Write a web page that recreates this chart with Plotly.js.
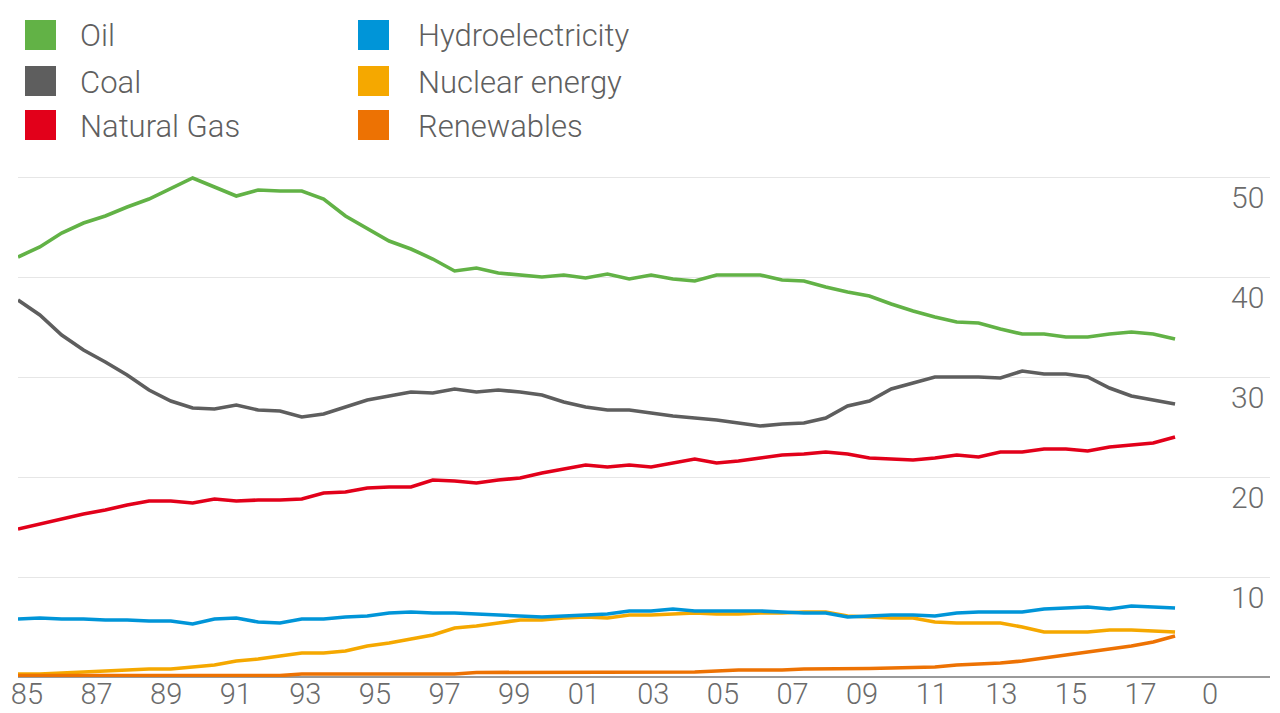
<!DOCTYPE html>
<html>
<head>
<meta charset="utf-8">
<script src="https://cdn.plot.ly/plotly-3.0.1.min.js"></script>
<style>
  html, body { margin: 0; padding: 0; background: #ffffff; }
  #chart { width: 1280px; height: 713px; }
</style>
</head>
<body>
<div id="chart"></div>
<script>
// ---- data (share of primary energy, %) ----
const years = [1965,1966,1967,1968,1969,1970,1971,1972,1973,1974,1975,1976,1977,1978,1979,1980,1981,1982,1983,1984,1985,1986,1987,1988,1989,1990,1991,1992,1993,1994,1995,1996,1997,1998,1999,2000,2001,2002,2003,2004,2005,2006,2007,2008,2009,2010,2011,2012,2013,2014,2015,2016,2017,2018];

const oil = [42.0,43.0,44.4,45.4,46.1,47.0,47.8,48.9,49.9,49.0,48.1,48.7,48.6,48.6,47.8,46.1,44.8,43.6,42.8,41.8,40.6,40.9,40.4,40.2,40.0,40.2,39.9,40.3,39.8,40.2,39.8,39.6,40.2,40.2,40.2,39.7,39.6,39.0,38.5,38.1,37.3,36.6,36.0,35.5,35.4,34.8,34.3,34.3,34.0,34.0,34.3,34.5,34.3,33.8];

const coal = [37.7,36.2,34.2,32.7,31.5,30.2,28.7,27.6,26.9,26.8,27.2,26.7,26.6,26.0,26.3,27.0,27.7,28.1,28.5,28.4,28.8,28.5,28.7,28.5,28.2,27.5,27.0,26.7,26.7,26.4,26.1,25.9,25.7,25.4,25.1,25.3,25.4,25.9,27.1,27.6,28.8,29.4,30.0,30.0,30.0,29.9,30.6,30.3,30.3,30.0,28.9,28.1,27.7,27.3];

const naturalGas = [14.8,15.3,15.8,16.3,16.7,17.2,17.6,17.6,17.4,17.8,17.6,17.7,17.7,17.8,18.4,18.5,18.9,19.0,19.0,19.7,19.6,19.4,19.7,19.9,20.4,20.8,21.2,21.0,21.2,21.0,21.4,21.8,21.4,21.6,21.9,22.2,22.3,22.5,22.3,21.9,21.8,21.7,21.9,22.2,22.0,22.5,22.5,22.8,22.8,22.6,23.0,23.2,23.4,24.0];

const hydro = [5.8,5.9,5.8,5.8,5.7,5.7,5.6,5.6,5.3,5.8,5.9,5.5,5.4,5.8,5.8,6.0,6.1,6.4,6.5,6.4,6.4,6.3,6.2,6.1,6.0,6.1,6.2,6.3,6.6,6.6,6.8,6.6,6.6,6.6,6.6,6.5,6.4,6.4,6.0,6.1,6.2,6.2,6.1,6.4,6.5,6.5,6.5,6.8,6.9,7.0,6.8,7.1,7.0,6.9];

const nuclear = [0.3,0.3,0.4,0.5,0.6,0.7,0.8,0.8,1.0,1.2,1.6,1.8,2.1,2.4,2.4,2.6,3.1,3.4,3.8,4.2,4.9,5.1,5.4,5.7,5.7,5.9,6.0,5.9,6.2,6.2,6.3,6.4,6.3,6.3,6.4,6.4,6.5,6.5,6.1,6.0,5.9,5.9,5.5,5.4,5.4,5.4,5.0,4.5,4.5,4.5,4.7,4.7,4.6,4.5];

const renewables = [0.15,0.15,0.15,0.15,0.15,0.15,0.15,0.15,0.15,0.15,0.15,0.15,0.15,0.3,0.3,0.3,0.3,0.3,0.3,0.3,0.3,0.45,0.45,0.45,0.45,0.45,0.45,0.5,0.5,0.5,0.5,0.5,0.6,0.7,0.7,0.7,0.8,0.8,0.8,0.85,0.9,0.95,1.0,1.2,1.3,1.4,1.6,1.9,2.2,2.5,2.8,3.1,3.5,4.1];

const seriesNames = ["Oil", "Coal", "Natural Gas", "Hydroelectricity", "Nuclear energy", "Renewables"];
const xTickLabels = ["85","87","89","91","93","95","97","99","01","03","05","07","09","11","13","15","17","0"];
const yTickValues = [10, 20, 30, 40, 50];
const yTickLabels = ["10", "20", "30", "40", "50"];

// ---- styling ----
const colors = {
  "Oil": "#62b246",
  "Coal": "#5e5e5e",
  "Natural Gas": "#e2001a",
  "Hydroelectricity": "#0095d8",
  "Nuclear energy": "#f5a800",
  "Renewables": "#ed7203"
};
const seriesData = {
  "Oil": oil, "Coal": coal, "Natural Gas": naturalGas,
  "Hydroelectricity": hydro, "Nuclear energy": nuclear, "Renewables": renewables
};
const drawOrder = ["Oil", "Coal", "Natural Gas", "Nuclear energy", "Hydroelectricity", "Renewables"];

const W = 1280, H = 713;
const M = { l: 18, r: 10, t: 157, b: 36 };
const plotW = W - M.l - M.r, plotH = H - M.t - M.b;
const pxX = px => (px - M.l) / plotW;          // pixel -> paper x
const pxY = py => (H - M.b - py) / plotH;      // pixel -> paper y

const traces = drawOrder.map(name => ({
  type: "scatter",
  mode: "lines",
  name: name,
  x: years,
  y: seriesData[name],
  line: { color: colors[name], width: 3.6 },
  hoverinfo: "x+y+name"
}));

// evenly spread x labels (as in the reference)
const xFirstTick = 1965.41, xTickStep = 3.188;
const xTickVals = xTickLabels.map((_, k) => xFirstTick + k * xTickStep);

const annotations = [];
const shapes = [];

// y labels, placed under each gridline at the right
yTickValues.forEach((v, k) => {
  annotations.push({
    xref: "paper", yref: "y", x: pxX(1266), y: v,
    xanchor: "right", yanchor: "middle", yshift: -20,
    text: yTickLabels[k], showarrow: false,
    font: { family: "Roboto", size: 30, color: "#6b6b6b", weight: 300 }
  });
});

// legend (two columns of coloured squares)
const legendCols = [{ sq: 25, tx: 78 }, { sq: 358, tx: 416 }];
const legendRows = [35, 81, 125];
seriesNames.forEach((name, i) => {
  const col = legendCols[Math.floor(i / 3)];
  const rowY = legendRows[i % 3];
  shapes.push({
    type: "rect", xref: "paper", yref: "paper",
    x0: pxX(col.sq), x1: pxX(col.sq + 31),
    y0: pxY(rowY + 15), y1: pxY(rowY - 15),
    fillcolor: colors[name], line: { width: 0 }
  });
  annotations.push({
    xref: "paper", yref: "paper", x: pxX(col.tx), y: pxY(rowY + 1),
    xanchor: "left", yanchor: "middle",
    text: name, showarrow: false,
    font: { family: "Roboto", size: 31, color: "#5f5f5f", weight: 300 }
  });
});

const layout = {
  width: W, height: H,
  margin: M,
  paper_bgcolor: "#ffffff",
  plot_bgcolor: "#ffffff",
  showlegend: false,
  font: { family: "Roboto", size: 30, color: "#6b6b6b", weight: 300 },
  xaxis: {
    range: [1965, 2022.35],
    tickmode: "array", tickvals: xTickVals, ticktext: xTickLabels,
    ticks: "", showgrid: false, zeroline: false, showline: false,
    ticklabelstandoff: -3,
    tickfont: { family: "Roboto", size: 29, color: "#6b6b6b", weight: 300 },
    fixedrange: true
  },
  yaxis: {
    range: [0, 52],
    tickmode: "array", tickvals: [0].concat(yTickValues),
    showticklabels: false, ticks: "",
    showgrid: true, gridcolor: "#e6e6e6", gridwidth: 1,
    zeroline: true, zerolinecolor: "#9a9a9a", zerolinewidth: 1.5,
    fixedrange: true
  },
  annotations: annotations,
  shapes: shapes
};

Plotly.newPlot("chart", traces, layout, { displayModeBar: false, staticPlot: true });
</script>
</body>
</html>
